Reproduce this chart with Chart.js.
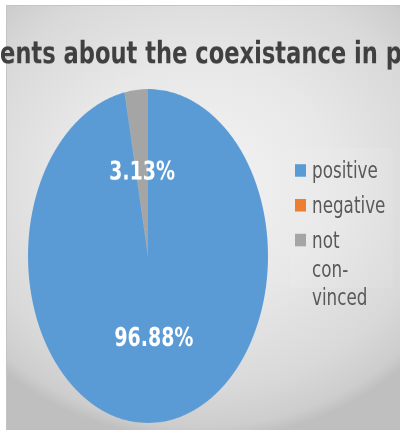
<!DOCTYPE html>
<html>
<head>
<meta charset="utf-8">
<title>Comments about the coexistance in peace</title>
<script src="https://cdn.jsdelivr.net/npm/chart.js@4"></script>
<style>
  html, body { margin: 0; padding: 0; background: #fff; }
  body { width: 400px; height: 430px; position: relative; overflow: hidden; }
  #bg {
    position: absolute; left: 6px; top: 5px; width: 400px; height: 430px;
    border-left: 1px solid #c4c4c4; border-top: 1px solid #c4c4c4;
    background: radial-gradient(ellipse 290px 258px at 194px 176px,
      #f3f3f3 0%, #e8e8e8 45%, #d9d9d9 80%, #cdcdcd 95%, #bfbfbf 100%);
  }
  /* whole chart is drawn flat and stretched vertically */
  #stage {
    position: absolute; left: 0; top: 0; width: 400px; height: 309px;
    transform: scaleY(1.3916); transform-origin: 0 0;
  }
  #chart { position: absolute; left: 0; top: 0; }
  #legend {
    position: absolute; left: 290px; top: 106px; width: 103px; height: 101px;
    background: rgba(255, 255, 255, 0.08);
  }
  .item { position: absolute; left: 5px; display: flex; align-items: flex-start; }
  .swatch { width: 11px; height: 9.5px; margin-top: 5.5px; margin-right: 6px; flex: none; }
  .text {
    font: 16.8px "DejaVu Sans", sans-serif; color: #595959;
    line-height: 20.5px; white-space: pre-line;
  }
</style>
</head>
<body>
<div id="bg"></div>
<div id="stage">
  <canvas id="chart" width="400" height="309"></canvas>
  <div id="legend"></div>
</div>
<script>
const titleText = 'Comments about the coexistance in peace';
const labels = ['positive', 'negative', 'not convinced'];
const legendText = ['positive', 'negative', 'not\ncon-\nvinced'];
const shares = [96.88, 0, 3.13];
const colors = ['#5b9bd5', '#ed7d31', '#a5a5a5'];

// legend rows, tops relative to the legend box
const legendTops = [6, 31.2, 56.4];
const legendBox = document.getElementById('legend');
legendText.forEach((t, i) => {
  const row = document.createElement('div');
  row.className = 'item';
  row.style.top = legendTops[i] + 'px';
  const sw = document.createElement('span');
  sw.className = 'swatch';
  sw.style.background = colors[i];
  const tx = document.createElement('span');
  tx.className = 'text';
  tx.textContent = t;
  row.appendChild(sw);
  row.appendChild(tx);
  legendBox.appendChild(row);
});

// title sits wider than the canvas, centred a little left of the middle
const titlePlugin = {
  id: 'wideTitle',
  afterDraw(chart) {
    const ctx = chart.ctx;
    ctx.save();
    ctx.font = 'bold 22.6px "DejaVu Sans"';
    ctx.fillStyle = '#404040';
    ctx.textAlign = 'center';
    ctx.textBaseline = 'alphabetic';
    ctx.fillText(titleText, 191, 45.3);
    ctx.restore();
  }
};

// percentage labels in the middle of each slice
const sliceLabels = {
  id: 'sliceLabels',
  afterDatasetsDraw(chart) {
    const ctx = chart.ctx;
    const meta = chart.getDatasetMeta(0);
    ctx.save();
    ctx.font = 'bold 19px "DejaVu Sans"';
    ctx.fillStyle = '#ffffff';
    ctx.textAlign = 'center';
    ctx.textBaseline = 'middle';
    meta.data.forEach((arc, i) => {
      if (!shares[i]) return;
      const p = arc.getCenterPoint();
      ctx.fillText(shares[i].toFixed(2) + '%', p.x, p.y);
    });
    ctx.restore();
  }
};

new Chart(document.getElementById('chart'), {
  type: 'pie',
  data: {
    labels: labels,
    datasets: [{
      data: shares,
      backgroundColor: colors,
      borderWidth: 0
    }]
  },
  options: {
    responsive: false,
    devicePixelRatio: 2,
    animation: false,
    layout: { padding: { left: 28, right: 132, top: 64, bottom: 5 } },
    plugins: {
      legend: { display: false },
      tooltip: { enabled: false },
      title: { display: false }
    }
  },
  plugins: [sliceLabels, titlePlugin]
});
</script>
</body>
</html>
